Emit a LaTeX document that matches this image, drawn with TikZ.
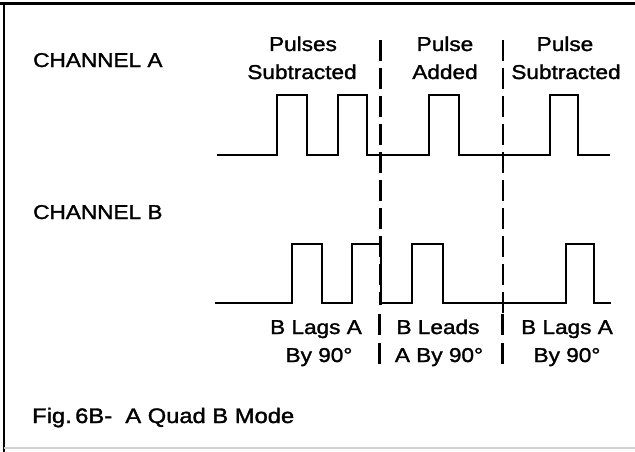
\documentclass[tikz,border=0pt]{standalone}
\usepackage{fontspec}
\setmainfont{Liberation Sans}[FakeStretch=1.13, FakeBold=1.5]
\begin{document}
\begin{tikzpicture}[x=1pt,y=-1pt,
  wave/.style={line width=2.6pt, line join=miter},
  sepline/.style={line width=2.2pt, dash pattern=on 21pt off 7pt},
  sepbar/.style={line width=2.2pt},
  lbl/.style={font=\fontsize{20}{22}\selectfont, inner sep=0pt},
  figlbl/.style={font=\fontsize{21}{23}\selectfont, inner sep=0pt}]
\useasboundingbox (0,0) rectangle (635,452);
\fill[white] (0,0) rectangle (635,452);
% frame
\draw[line width=3pt] (0,4) -- (635,4);
\draw[line width=2.5pt] (4,2.5) -- (4,452);
\draw[gray!35, line width=1.5pt] (4,448) -- (635,448);
% dashed separators
\draw[sepline] (380.5,40) -- (380.5,305);
\draw[sepline] (503,40) -- (503,320);
\draw[sepbar] (379.5,314) -- (379.5,335) (379.5,343) -- (379.5,364);
\draw[sepbar] (502.5,314) -- (502.5,335) (502.5,343) -- (502.5,364);
% channel A
\draw[wave] (217,155) -- (277,155) -- (277,95) -- (307,95) -- (307,155)
  -- (338,155) -- (338,95) -- (367,95) -- (367,155)
  -- (429,155) -- (429,95) -- (459,95) -- (459,155)
  -- (550,155) -- (550,95) -- (578,95) -- (578,155) -- (610,155);
% channel B
\draw[wave] (215,303) -- (292,303) -- (292,244) -- (322,244) -- (322,303)
  -- (352,303) -- (352,244) -- (381,244) -- (381,303)
  -- (412,303) -- (412,244) -- (443,244) -- (443,303)
  -- (566,303) -- (566,244) -- (594,244) -- (594,303) -- (611,303);
% labels
\node[lbl, anchor=base west] (cha) at (33,67) {CHANNEL A};
\node[lbl, anchor=base west] (chb) at (33,219) {CHANNEL B};
\node[lbl, anchor=base] (p1a) at (303,51) {Pulses};
\node[lbl, anchor=base] (p1b) at (302,79) {Subtracted};
\node[lbl, anchor=base] (p2a) at (445,51) {Pulse};
\node[lbl, anchor=base] (p2b) at (445,79) {Added};
\node[lbl, anchor=base] (p3a) at (565,51) {Pulse};
\node[lbl, anchor=base] (p3b) at (566,79) {Subtracted};
\node[lbl, anchor=base] (b1a) at (316,334) {B Lags A};
\node[lbl, anchor=base] (b1b) at (319,362) {By 90°};
\node[lbl, anchor=base] (b2a) at (438,334) {B Leads};
\node[lbl, anchor=base] (b2b) at (439,362) {A By 90°};
\node[lbl, anchor=base] (b3a) at (567,334) {B Lags A};
\node[lbl, anchor=base] (b3b) at (567,362) {By 90°};
\node[figlbl, anchor=base west] (fig) at (32,423) {Fig.\,6B-\ \ A Quad B Mode};
\end{tikzpicture}
\end{document}
